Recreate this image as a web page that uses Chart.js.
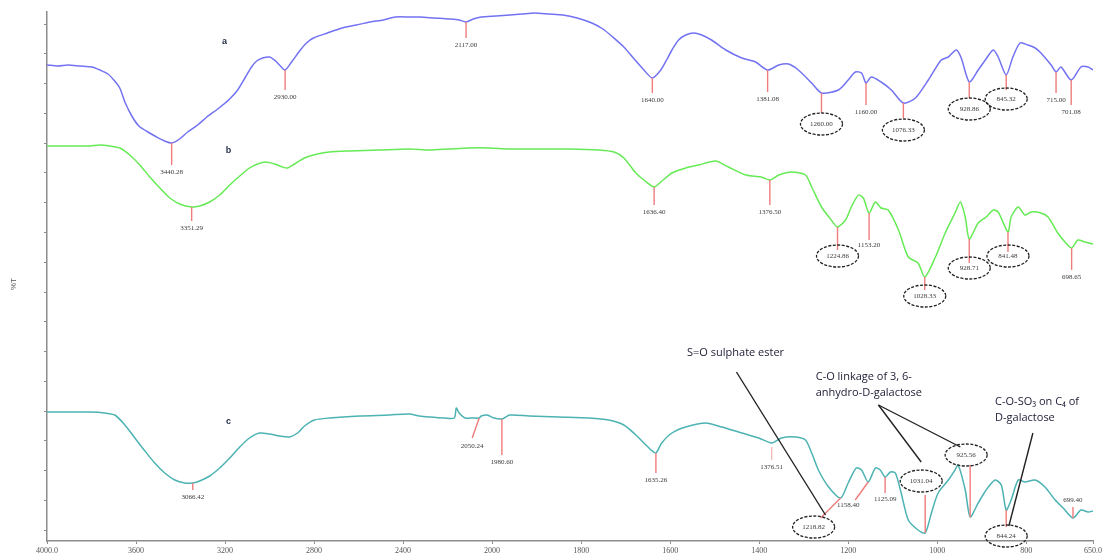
<!DOCTYPE html>
<html>
<head>
<meta charset="utf-8">
<script src="https://cdn.jsdelivr.net/npm/chart.js@4.4.1/dist/chart.umd.min.js"></script>
<style>
  html, body { margin: 0; padding: 0; background: #fff; }
  #wrap { width: 1104px; height: 559px; position: relative; }
</style>
</head>
<body>
<div id="wrap"><canvas id="ftir"></canvas></div>
<script>
// FTIR spectra a, b, c: wavenumber (cm-1) and transmittance (%T, stacked offsets)
const waveA = [4000,3951,3906,3852,3798,3762,3726,3700,3673,3650,3619,3587,3547,3507,3471,3440,3404,3368,3323,3282,3233,3184,3143,3108,3081,3058,3031,3000,2973,2951,2930,2901,2865,2834,2803,2740,2673,2610,2547,2489,2435,2372,2323,2260,2193,2148,2117,2085,2049,1991,1960,1933,1904,1872,1841,1809,1776,1751,1729,1704,1679,1659,1640,1621,1608,1596,1581,1565,1547,1529,1507,1475,1439,1408,1381,1356,1334,1312,1282,1260,1222,1200,1184,1170,1160,1148,1126,1103,1076,1049,1020,991,975,957,946,928,908,892,874,863,845,830,814,796,780,767,744,733,722,699,677,661,650];
const transA = [95.2,95.0,95.2,95.0,94.8,94.2,93.4,92.2,90.6,87.8,85.0,83.0,81.8,80.8,80.0,79.6,80.4,81.8,83.2,84.8,86.4,88.2,90.2,92.8,94.8,96.0,96.6,96.8,96.0,95.0,94.2,95.8,98.0,99.6,100.6,101.6,102.6,103.2,103.8,104.2,104.8,104.8,104.8,104.6,104.4,104.2,103.8,104.4,104.8,105.0,105.2,105.4,105.6,105.4,105.2,104.6,103.6,102.4,100.8,98.8,96.2,94.2,92.6,94.2,96.2,98.2,100.2,101.2,101.6,101.2,100.2,98.2,96.6,95.8,94.2,95.2,95.4,94.2,91.6,89.6,90.2,92.2,93.8,93.6,91.6,92.8,91.8,90.2,87.6,88.6,92.2,96.2,96.8,98.2,96.6,91.8,94.2,96.2,98.2,96.8,93.2,96.8,99.6,99.2,98.6,97.6,95.2,93.8,94.8,92.2,94.8,94.8,94.2];

const waveB = [4000,3942,3874,3807,3762,3717,3673,3628,3583,3538,3493,3448,3404,3350,3314,3269,3224,3179,3134,3090,3054,3018,2977,2942,2919,2888,2843,2785,2731,2641,2507,2372,2282,2193,2103,2013,1962,1895,1827,1760,1726,1704,1677,1659,1636,1621,1596,1565,1536,1498,1469,1430,1395,1376,1356,1327,1296,1282,1260,1238,1224,1206,1193,1177,1166,1153,1139,1126,1110,1087,1065,1043,1028,1004,982,960,948,937,928,908,890,874,863,841,834,818,803,789,767,751,729,711,698,684,668,650];
const transB = [79.0,79.0,79.0,79.0,79.2,79.0,78.6,77.2,75.2,72.8,70.6,68.6,67.4,66.8,67.0,67.8,69.2,71.2,73.0,74.6,75.4,75.8,75.4,74.8,74.6,75.4,76.6,77.4,77.8,78.0,78.2,78.4,78.2,78.4,78.6,78.6,78.4,78.4,78.4,78.2,77.8,76.6,73.6,72.2,70.8,71.8,73.6,74.6,75.2,76.0,74.8,73.2,72.8,72.2,73.2,73.8,73.2,70.8,66.8,64.2,62.8,64.2,66.8,69.2,68.6,65.6,67.8,66.6,66.2,62.2,56.8,55.6,52.8,56.8,61.6,65.6,67.8,64.8,60.4,63.6,64.8,66.2,65.8,61.8,64.8,66.8,65.2,65.8,65.6,64.8,61.6,59.6,58.6,60.2,59.8,59.4];

const waveC = [4000,3897,3807,3740,3695,3650,3605,3560,3516,3471,3426,3381,3345,3314,3269,3224,3179,3134,3090,3045,3000,2955,2910,2874,2843,2798,2731,2596,2462,2372,2327,2282,2215,2170,2161,2148,2121,2085,2058,2049,2022,1996,1978,1960,1917,1850,1782,1738,1704,1677,1659,1643,1632,1619,1596,1565,1520,1484,1439,1401,1372,1350,1318,1296,1282,1267,1244,1217,1200,1182,1170,1155,1139,1128,1117,1105,1094,1081,1065,1043,1027,1013,998,975,960,953,937,926,908,890,870,856,845,834,818,803,780,758,735,717,695,677,661,650];
const transC = [25.8,25.8,25.8,25.6,25.2,23.2,20.6,18.0,15.6,13.6,12.2,11.6,11.6,12.0,13.0,14.6,16.6,18.8,20.6,21.6,21.4,21.0,20.8,21.6,23.0,24.2,24.6,25.0,25.2,25.4,25.0,24.8,24.6,24.6,26.6,25.6,24.6,24.6,24.6,25.0,25.2,24.6,24.4,25.2,25.0,24.8,24.6,24.2,23.2,21.2,19.6,18.2,17.6,19.6,21.6,22.8,23.6,22.8,21.6,20.6,19.6,20.6,20.8,20.2,17.6,14.2,10.8,8.6,11.6,14.6,14.2,11.8,14.6,14.2,12.8,13.8,13.6,9.6,4.2,2.2,1.6,5.6,9.6,12.2,14.2,15.2,10.2,4.8,7.6,10.2,12.2,11.2,6.2,8.2,12.2,11.8,12.2,10.8,8.2,6.6,4.6,6.2,5.8,6.0];

// peak picks: where the marker sits and the text printed next to it
const peaksA = [3440,2930,2117,1640,1381,1260,1160,1076,928,845,733,699];
const labelsA = ['3440.28','2930.00','2117.00','1640.00','1381.08','1260.00','1160.00','1076.33','928.86','845.32','715.00','701.08'];
const peaksB = [3350,1636,1376,1224,1153,1028,928,841,698];
const labelsB = ['3351.29','1636.40','1376.50','1224.86','1153.20','1028.33','928.71','841.48','698.65'];
const peaksC = [3345,2058,1978,1632,1372,1217,1155,1117,1027,926,845,695];
const labelsC = ['3066.42','2050.24','1980.60','1635.26','1376.51','1218.82','1158.40','1125.09','1031.04','925.56','844.24','699.40'];

// x axis ticks (scale doubles below 2000 cm-1)
const xTickValues = [4000,3600,3200,2800,2400,2000,1800,1600,1400,1200,1000,800,650];
const xTickLabels = ['4000.0','3600','3200','2800','2400','2000','1800','1600','1400','1200','1000','800','650.0'];

// band assignments drawn on spectrum c
const notes = [
  { lines: ['S=O sulphate ester'], at: [1453, 37.6], align: 'center' },
  { lines: ['C-O linkage of 3, 6-', 'anhydro-D-galactose'], at: [1273, 32.8], align: 'left' },
  { lines: ['C-O-SO\u2083 on C\u2084 of', 'D-galactose'], at: [870, 27.8], align: 'left' }
];
const leaders = [[1451, 33.8, 1251, 5.2], [1132, 27.2, 1036, 15.8], [1132, 27.2, 948, 18.8], [785, 21.6, 839, 3.0]];

// marker layout (line length in px, label gap, circled or not)
const markA = [{len:22},{len:20},{len:16},{len:15},{len:22},{len:20,c:1,gap:11},{len:22},{len:15,c:1,gap:12},{len:16,c:1,gap:11},{len:15,c:1,gap:9},{len:21},{len:25}];
const markB = [{len:14},{len:18},{len:25},{len:23,c:1,gap:6},{len:27,gap:5},{len:13,c:1,gap:6},{len:24,c:1,gap:5},{len:20,c:1,gap:4},{len:22}];
const markC = [{len:7},{len:20,dx:-7,gap:8},{len:36},{len:20},{len:17,start:4,pale:1},{len:20,dx:-20,c:1,gap:9,lx:-7},{len:18,dx:-13,gap:5,lx:-7},{len:16,gap:6},{len:-38,c:1,gap:14,lx:-4},{len:-52,c:1,gap:10,lx:-4},{len:17,c:1,gap:9},{len:-11,gap:7}];

// map wavenumber to axis position: 4000-2000 at half the scale of 2000-650
function pos(w) {
  return w >= 2000 ? 4000 - w : 2000 + 2 * (2000 - w);
}

function trAt(waves, trans, w) {
  for (let i = 0; i < waves.length - 1; i++) {
    if (waves[i] >= w && w >= waves[i + 1]) {
      const f = (waves[i] - w) / (waves[i] - waves[i + 1]);
      return trans[i] + f * (trans[i + 1] - trans[i]);
    }
  }
  return trans[trans.length - 1];
}

const toPoints = (waves, trans) => waves.map((w, i) => ({ x: pos(w), y: trans[i] }));

const marks = {
  id: 'marks',
  afterDatasetsDraw(chart) {
    const { ctx, scales: { x, y } } = chart;
    const X = w => x.getPixelForValue(pos(w));
    const Y = t => y.getPixelForValue(t);
    ctx.save();

    function peaks(waves, trans, list, labels, layout) {
      list.forEach((w, i) => {
        const m = layout[i];
        const px = X(w), py = Y(trAt(waves, trans, w));
        const dir = m.len < 0 ? -1 : 1;
        const x2 = px + (m.dx || 0), y2 = py + m.len;
        ctx.strokeStyle = m.pale ? '#f7b9b9' : '#f07c7c';
        ctx.lineWidth = 1.4;
        ctx.setLineDash([]);
        ctx.beginPath();
        ctx.moveTo(px, py + dir * (m.start || 0));
        ctx.lineTo(x2, y2);
        ctx.stroke();
        const lx = x2 + (m.lx || 0);
        const ly = y2 + dir * (m.gap != null ? m.gap : 7);
        if (m.c) {
          ctx.strokeStyle = '#222';
          ctx.lineWidth = 1.3;
          ctx.setLineDash([3, 1.5]);
          ctx.beginPath();
          ctx.ellipse(lx, ly, 21, 11, 0, 0, Math.PI * 2);
          ctx.stroke();
          ctx.setLineDash([]);
        }
        ctx.fillStyle = '#3a3a3a';
        ctx.font = '7px "Liberation Serif"';
        ctx.textAlign = 'center';
        ctx.textBaseline = 'middle';
        ctx.fillText(labels[i], lx, ly);
      });
    }
    peaks(waveA, transA, peaksA, labelsA, markA);
    peaks(waveB, transB, peaksB, labelsB, markB);
    peaks(waveC, transC, peaksC, labelsC, markC);

    // leader lines
    ctx.strokeStyle = '#222';
    ctx.lineWidth = 1.4;
    leaders.forEach(l => {
      ctx.beginPath();
      ctx.moveTo(X(l[0]), Y(l[1]));
      ctx.lineTo(X(l[2]), Y(l[3]));
      ctx.stroke();
    });

    // notes
    ctx.fillStyle = '#1c1c34';
    ctx.font = '11px "Open Sans"';
    ctx.textBaseline = 'middle';
    notes.forEach(n => {
      ctx.textAlign = n.align;
      n.lines.forEach((t, k) => ctx.fillText(t, X(n.at[0]), Y(n.at[1]) + k * 15.5));
    });

    // spectrum letters
    ctx.font = 'bold 9px "Liberation Sans"';
    ctx.textAlign = 'center';
    ctx.fillStyle = '#1e2a44';
    [['a', 3202, 99.8], ['b', 3184, 78.0], ['c', 3184, 23.8]].forEach(s => ctx.fillText(s[0], X(s[1]), Y(s[2])));

    // y title
    ctx.translate(14, 284);
    ctx.rotate(-Math.PI / 2);
    ctx.font = '8px "Liberation Sans"';
    ctx.fillStyle = '#555';
    ctx.fillText('%T', 0, 0);
    ctx.restore();
  }
};

const axisGray = '#8c8c8c';
const line = (data, color) => ({
  data, borderColor: color, borderWidth: 1.5, pointRadius: 0, tension: 0.25, fill: false
});

new Chart(document.getElementById('ftir'), {
  type: 'line',
  data: {
    datasets: [
      line(toPoints(waveA, transA), '#7272f2'),
      line(toPoints(waveB, transB), '#66ea55'),
      line(toPoints(waveC, transC), '#4cb2b2')
    ]
  },
  options: {
    responsive: true,
    maintainAspectRatio: false,
    animation: false,
    layout: { padding: { top: 12, right: 9, left: 0, bottom: 0 }, autoPadding: false },
    plugins: { legend: { display: false }, tooltip: { enabled: false } },
    scales: {
      x: {
        type: 'linear', min: 0, max: 4700,
        afterBuildTicks: s => { s.ticks = xTickValues.map(w => ({ value: pos(w) })); },
        afterFit: s => { s.height = 18; },
        ticks: {
          autoSkip: false, maxRotation: 0, padding: 2, color: '#555',
          font: { family: 'Liberation Serif', size: 8 },
          callback: (v, i) => xTickLabels[i]
        },
        grid: { drawOnChartArea: false, tickLength: 3, color: axisGray },
        border: { color: axisGray, width: 1.5 }
      },
      y: {
        min: 0, max: 105.8,
        afterBuildTicks: s => { s.ticks = Array.from({ length: 18 }, (_, k) => ({ value: 2.2 + 5.95 * k })); },
        afterFit: s => { s.width = 47; },
        ticks: { display: false },
        grid: { drawOnChartArea: false, tickLength: 3, color: axisGray },
        border: { color: axisGray, width: 1.5 }
      }
    }
  },
  plugins: [marks]
});
</script>
</body>
</html>
